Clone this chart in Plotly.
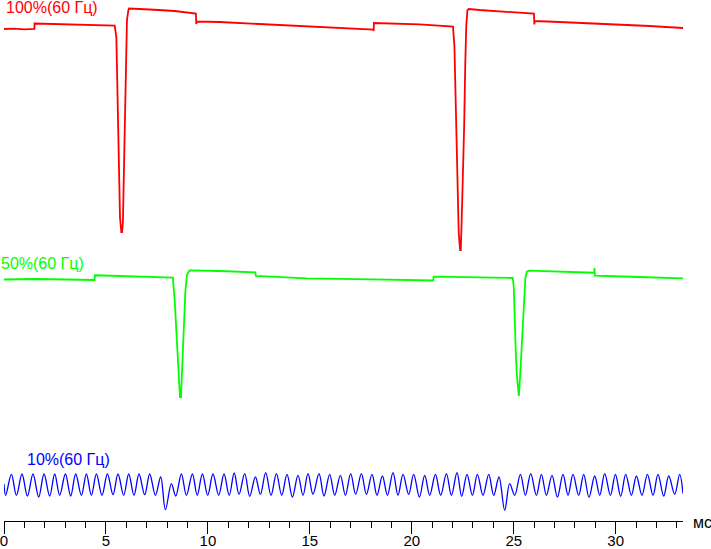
import plotly.graph_objects as go

# time in ms, values in arbitrary brightness units (offset per trace)
red_t = [0.00, 0.50, 1.00, 1.49, 1.50, 2.5, 3.5, 4.5, 5.43, 5.51, 5.56, 5.61, 5.64, 5.69, 5.755, 5.79,
         5.83, 5.88, 5.93, 5.98, 6.03, 6.10, 6.13, 7.15, 8.37, 9.41, 9.43, 9.45, 10.57, 12.68, 15.13,
         16.80, 18.12, 18.13, 18.14, 20.38, 22.02, 22.09, 22.14, 22.20, 22.25, 22.30, 22.37, 22.40,
         22.44, 22.50, 22.57, 22.62, 22.67, 22.73, 22.80, 23.32, 24.79, 25.99, 26.01, 26.03, 27.24,
         29.20, 30.18, 31.65, 33.30]
red_v = [492, 492.3, 491.7, 492, 497.5, 497, 496.5, 496, 495.3, 484, 424, 376, 333, 303, 289, 289,
         298, 356, 423, 466, 501, 511, 512.5, 511.5, 510, 507.5, 497, 499.5, 499, 496.7, 494.3,
         492.7, 491.3, 490, 498, 496.7, 494.3, 475, 422, 369, 322, 288, 271, 271,
         296, 338, 397, 455, 495, 511, 512, 511, 509, 507.3, 496.5, 500, 499,
         497.5, 496.5, 495, 493]

green_t = [0.00, 1.5, 3.0, 4.44, 4.46, 6.0, 8.28, 8.37, 8.45, 8.53, 8.58, 8.63, 8.68, 8.725, 8.775,
           8.82, 8.89, 8.97, 9.07, 9.10, 10.57, 12.33, 12.35, 14.82, 18.07, 21.05, 21.07, 22.34,
           24.95, 25.00, 25.05, 25.10, 25.15, 25.20, 25.25, 25.315, 25.38, 25.44, 25.51, 25.57,
           25.64, 25.77, 28.95, 28.96, 28.98, 31.16, 33.30]
green_v = [241.5, 242, 241.5, 241, 245.7, 244.5, 243.3, 221, 191, 171, 146, 124, 124, 148, 171,
           203, 228, 246, 250, 250.7, 250, 248.7, 245, 242.7, 241.7, 240.5, 244.3, 243.7,
           243, 234, 193, 168, 146, 131, 125, 146, 173, 203, 224, 243,
           249.3, 250.3, 248.3, 253, 245.3, 244, 242.7]

blue_t = [0.000, 0.083, 0.363, 0.608, 0.883, 1.148, 1.422, 1.702, 1.962, 2.241, 2.487, 2.732, 3.011,
          3.271, 3.516, 3.796, 4.041, 4.286, 4.532, 4.806, 5.071, 5.346, 5.591, 5.870, 6.116, 6.376,
          6.621, 6.900, 7.146, 7.425, 7.685, 7.916, 8.210, 8.421, 8.700, 8.945, 9.240, 9.475, 9.730,
          9.990, 10.250, 10.530, 10.790, 11.045, 11.290, 11.525, 11.805, 12.050, 12.330, 12.575,
          12.835, 13.095, 13.360, 13.619, 13.879, 14.144, 14.419, 14.664, 14.909, 15.154, 15.449,
          15.694, 15.973, 16.218, 16.498, 16.743, 17.003, 17.248, 17.528, 17.773, 18.048, 18.293,
          18.558, 18.803, 19.078, 19.323, 19.568, 19.848, 20.093, 20.373, 20.633, 20.878, 21.157,
          21.417, 21.697, 21.942, 22.217, 22.447, 22.707, 22.972, 23.217, 23.492, 23.772, 24.016,
          24.276, 24.556, 24.801, 25.046, 25.326, 25.571, 25.831, 26.111, 26.356, 26.601, 26.876,
          27.141, 27.415, 27.661, 27.906, 28.185, 28.430, 28.690, 28.970, 29.215, 29.460, 29.740,
          29.985, 30.245, 30.490, 30.770, 31.015, 31.289, 31.554, 31.829, 32.074, 32.354, 32.599,
          32.893, 33.138, 33.300]
blue_v = [37.3, 25.7, 46.7, 25.7, 47.0, 25.0, 47.0, 24.0, 47.0, 25.0, 47.0, 25.7, 47.0,
          25.0, 47.0, 25.7, 47.0, 25.7, 47.0, 25.7, 47.0, 26.3, 47.0, 25.7, 47.0, 25.7,
          47.0, 26.3, 47.0, 25.7, 44.0, 11.3, 37.3, 25.0, 47.0, 25.7, 47.0, 25.7, 47.0,
          25.7, 47.0, 25.7, 47.0, 25.7, 48.0, 26.7, 47.3, 24.7, 44.0, 26.7,
          48.3, 25.7, 47.3, 25.7, 46.7, 24.0, 45.7, 25.7, 47.3, 26.7, 47.3,
          25.0, 46.7, 25.7, 45.7, 25.7, 47.3, 26.7, 47.3, 26.7, 46.7, 25.7,
          45.0, 25.7, 48.3, 25.7, 46.7, 26.7, 46.7, 24.0, 45.7, 25.7, 46.7,
          25.7, 47.3, 25.7, 48.3, 24.7, 46.7, 25.7, 46.7, 25.7, 46.7, 25.7,
          44.0, 10.7, 37.3, 25.7, 46.7, 25.7, 47.3, 25.7, 46.7, 25.7, 45.7,
          24.0, 46.7, 25.7, 46.7, 25.7, 46.7, 23.7, 45.0, 25.7, 47.3, 25.7,
          46.7, 24.7, 46.7, 25.7, 45.0, 25.7, 46.7, 25.7, 46.7, 25.0, 45.0,
          26.7, 46.7, 27.3]

x_ticks = [0, 5, 10, 15, 20, 25, 30]
x_ticktext = ["0", "5", "10", "15", "20", "25", "30"]
labels = ["100%(60 Гц)", "50%(60 Гц)", "10%(60 Гц)"]
unit = "мс"
x_range = [0, 33.3]

FONT = "Arial, Liberation Sans, sans-serif"

fig = go.Figure()
fig.add_trace(go.Scatter(x=red_t, y=red_v, mode="lines", line=dict(color="#ff0000", width=1.8), showlegend=False))
fig.add_trace(go.Scatter(x=green_t, y=green_v, mode="lines", line=dict(color="#00ff00", width=1.8), showlegend=False))
fig.add_trace(go.Scatter(x=blue_t, y=blue_v, mode="lines", line=dict(color="#0000ff", width=1.3, shape="spline", smoothing=1.0), showlegend=False))

# trace labels
fig.add_annotation(x=0, y=514, xref="paper", yref="y", text=labels[0], showarrow=False,
                   xanchor="left", yanchor="middle", xshift=0,
                   font=dict(family=FONT, size=16, color="#ff0000"))
fig.add_annotation(x=0, y=258, xref="paper", yref="y", text=labels[1], showarrow=False,
                   xanchor="left", yanchor="middle", xshift=-5,
                   font=dict(family=FONT, size=16, color="#00ff00"))
fig.add_annotation(x=0, y=62, xref="paper", yref="y", text=labels[2], showarrow=False,
                   xanchor="left", yanchor="middle", xshift=21,
                   font=dict(family=FONT, size=16, color="#0000ff"))
fig.add_annotation(x=1, y=0, xref="paper", yref="paper", text=unit, showarrow=False,
                   xanchor="left", yanchor="middle", xshift=8, yshift=-1,
                   font=dict(family=FONT, size=16, color="#000000"))

fig.update_layout(
    width=711, height=549,
    margin=dict(l=4, r=28, t=0, b=28, autoexpand=False),
    paper_bgcolor="white", plot_bgcolor="white",
    font=dict(family=FONT, size=15, color="black"),
    xaxis=dict(range=x_range, tickvals=x_ticks, ticktext=x_ticktext,
               showline=True, linecolor="black", linewidth=1,
               ticks="outside", ticklen=6, tickcolor="black", tickwidth=1,
               minor=dict(dtick=1, ticks="outside", ticklen=6, tickcolor="black", tickwidth=1),
               showgrid=False, zeroline=False, automargin=False, ticklabeloverflow="allow",
               tickfont=dict(family=FONT, size=15, color="black")),
    # overlay axis only for the longer major tick marks
    xaxis2=dict(range=x_range, overlaying="x", side="bottom", anchor="y",
                tickvals=x_ticks, showticklabels=False, ticks="outside", ticklen=12,
                tickcolor="black", tickwidth=1, showline=False, showgrid=False,
                zeroline=False, automargin=False),
    yaxis=dict(range=[0, 521], visible=False, showgrid=False, zeroline=False),
)
fig.add_trace(go.Scatter(x=[None], y=[None], xaxis="x2", showlegend=False, hoverinfo="skip"))

fig.write_html("out.html", config={"displayModeBar": False},
               post_script="document.body.style.margin='0px';")
